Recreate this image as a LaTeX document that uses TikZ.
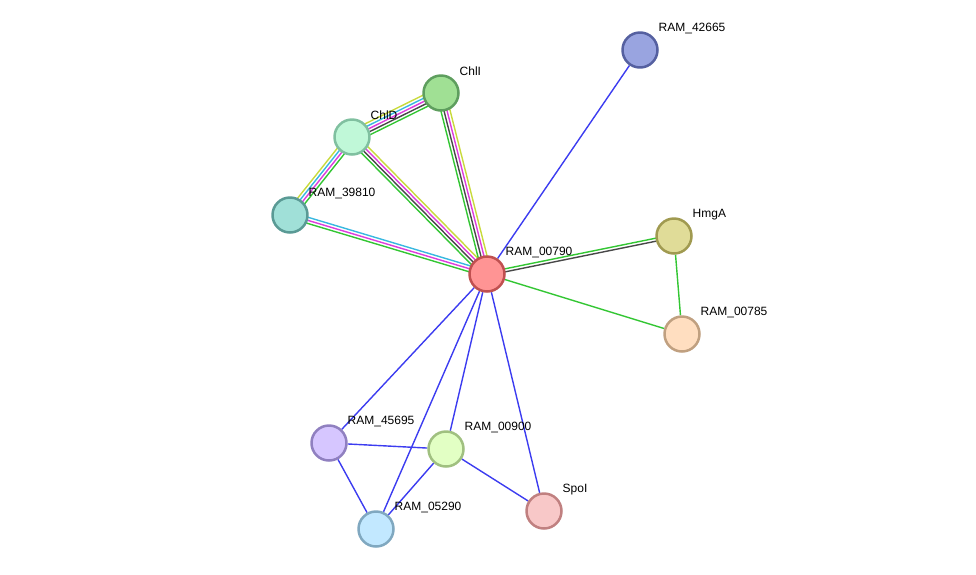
\documentclass[tikz,border=0pt]{standalone}
\usepackage{fontspec}
\setmainfont{Liberation Sans}
\usetikzlibrary{calc,backgrounds}

\definecolor{eblue}{HTML}{3C3CF0}
\definecolor{egreen}{HTML}{33C633}
\definecolor{emag}{HTML}{DD3CDD}
\definecolor{egray}{HTML}{484848}
\definecolor{eyel}{HTML}{C8DA3C}
\definecolor{ecyan}{HTML}{38B8E0}
\definecolor{d42665}{HTML}{5560A0}\definecolor{f42665}{HTML}{99A4E0}
\definecolor{dChlI}{HTML}{5E9E5E}\definecolor{fChlI}{HTML}{A0E094}
\definecolor{dChlD}{HTML}{80C0A0}\definecolor{fChlD}{HTML}{C0F8D8}
\definecolor{d39810}{HTML}{5A9A95}\definecolor{f39810}{HTML}{A0E0D8}
\definecolor{d00790}{HTML}{C05050}\definecolor{f00790}{HTML}{FF9494}
\definecolor{dHmgA}{HTML}{A09A50}\definecolor{fHmgA}{HTML}{E0DC98}
\definecolor{d00785}{HTML}{C0A080}\definecolor{f00785}{HTML}{FFDEC0}
\definecolor{d45695}{HTML}{9080C0}\definecolor{f45695}{HTML}{D6C6FF}
\definecolor{d00900}{HTML}{A0C080}\definecolor{f00900}{HTML}{E2FFC4}
\definecolor{dSpoI}{HTML}{C08080}\definecolor{fSpoI}{HTML}{F8C8C8}
\definecolor{d05290}{HTML}{80A8C0}\definecolor{f05290}{HTML}{C2E8FF}

\newcommand{\bundle}[4]{%
  \foreach \col [count=\i, evaluate=\i as \off using (\i-(#3+1)/2)*3] in {#4}
    \draw[edge,\col] ($(#1)!\off pt!-90:(#2)$) -- ($(#2)!\off pt!90:(#1)$);}

\begin{document}
\begin{tikzpicture}[x=1pt,y=-1pt,line cap=round,line join=round,
    prot/.style={circle,draw=d#1,fill=f#1,line width=2.5pt,minimum size=35pt,inner sep=0pt},
    lbl/.style={anchor=west,label distance=9pt,inner sep=1pt,font=\fontsize{12}{14}\selectfont},
    edge/.style={line width=1.4pt}]
  \useasboundingbox (0,0) rectangle (976,574);
  \node[prot=42665,label={[lbl]51:RAM\_42665}] (n42665) at (640,50) {};
  \node[prot=ChlI,label={[lbl]51:ChlI}] (nChlI) at (441,93) {};
  \node[prot=ChlD,label={[lbl]51:ChlD}] (nChlD) at (352,137) {};
  \node[prot=39810,label={[lbl]51:RAM\_39810}] (n39810) at (290,215) {};
  \node[prot=00790,label={[lbl]51:RAM\_00790}] (n00790) at (487,274) {};
  \node[prot=HmgA,label={[lbl]51:HmgA}] (nHmgA) at (674,236) {};
  \node[prot=00785,label={[lbl]51:RAM\_00785}] (n00785) at (682,334) {};
  \node[prot=45695,label={[lbl]51:RAM\_45695}] (n45695) at (329,443) {};
  \node[prot=00900,label={[lbl]51:RAM\_00900}] (n00900) at (446,449) {};
  \node[prot=SpoI,label={[lbl]51:SpoI}] (nSpoI) at (544,511) {};
  \node[prot=05290,label={[lbl]51:RAM\_05290}] (n05290) at (376,529) {};
  \begin{pgfonlayer}{background}
    \bundle{nChlD}{nChlI}{5}{eyel,ecyan,emag,egray,egreen}
    \bundle{nChlD}{n39810}{4}{egreen,emag,ecyan,eyel}
    \bundle{nChlD}{n00790}{4}{eyel,emag,egray,egreen}
    \bundle{nChlI}{n00790}{4}{eyel,emag,egray,egreen}
    \bundle{n39810}{n00790}{3}{ecyan,emag,egreen}
    \bundle{n00790}{nHmgA}{2}{egreen,egray}
    \draw[edge,egreen] (nHmgA) -- (n00785);
    \draw[edge,egreen] (n00790) -- (n00785);
    \foreach \t in {n42665,n45695,n05290,n00900,nSpoI}
      \draw[edge,eblue] (n00790) -- (\t);
    \draw[edge,eblue] (n45695) -- (n00900);
    \draw[edge,eblue] (n45695) -- (n05290);
    \draw[edge,eblue] (n00900) -- (n05290);
    \draw[edge,eblue] (n00900) -- (nSpoI);
  \end{pgfonlayer}
\end{tikzpicture}
\end{document}
